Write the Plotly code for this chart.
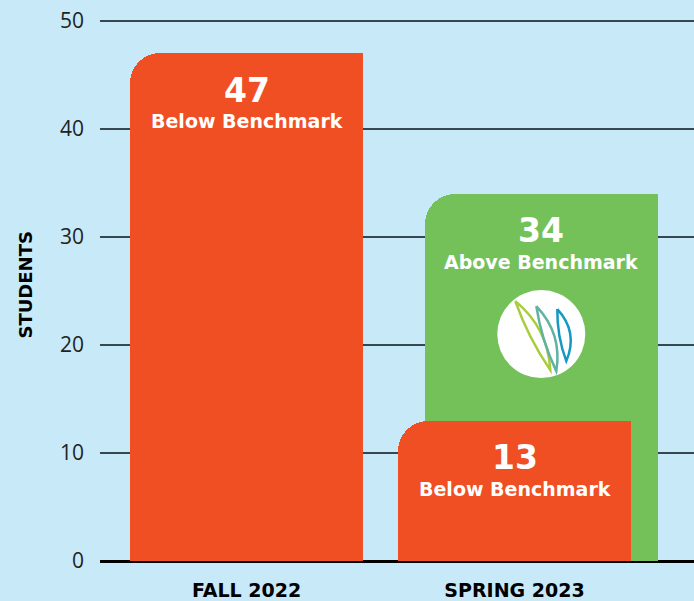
import plotly.graph_objects as go

categories = ["FALL 2022", "SPRING 2023"]
below_benchmark = [47, 13]
above_benchmark = [None, 34]
y_ticks = [0, 10, 20, 30, 40, 50]

RED = "#F04E23"
GREEN = "#74C15A"
BG = "#C7E9F8"
BW = 0.87      # bar width in category units
SHIFT = 0.10   # green bar shifted right
RAD = 30
LABEL_FONT = "DejaVu Sans"

xpos = list(range(len(categories)))
fig = go.Figure()

def add_bar(xs, ys, color, offset):
    # full bar with rounded top corners
    fig.add_trace(go.Bar(x=xs, y=ys, width=BW, offset=offset, marker=dict(color=color, cornerradius=RAD, line=dict(width=0)), hoverinfo="skip"))
    # right half, square corners -> only the top-left corner looks rounded
    fig.add_trace(go.Bar(x=xs, y=ys, width=BW / 2, offset=offset + BW / 2, marker=dict(color=color, line=dict(width=0)), hoverinfo="skip"))

ga_x = [xpos[i] for i, v in enumerate(above_benchmark) if v is not None]
ga_y = [v for v in above_benchmark if v is not None]
add_bar(ga_x, ga_y, GREEN, -BW / 2 + SHIFT)
add_bar(xpos, below_benchmark, RED, -BW / 2)

def add_labels(x, y, label):
    fig.add_annotation(x=x, y=y, text=f"<b>{y}</b>", showarrow=False, yanchor="middle", yshift=-37,
                       font=dict(family=LABEL_FONT, size=33, color="white"))
    fig.add_annotation(x=x, y=y, text=f"<b>{label}</b>", showarrow=False, yanchor="middle", yshift=-68,
                       font=dict(family=LABEL_FONT, size=19, color="white"))

for i, v in enumerate(below_benchmark):
    add_labels(xpos[i], v, "Below Benchmark")
for i, v in enumerate(above_benchmark):
    if v is not None:
        add_labels(xpos[i] + SHIFT, v, "Above Benchmark")

# logo: white circle with three leaf strokes
logo_x = 1 + SHIFT
logo_y = 21.0
fig.add_shape(type="circle", xref="x", yref="y", xsizemode="pixel", ysizemode="pixel",
              xanchor=logo_x, yanchor=logo_y, x0=-44, x1=44, y0=-44, y1=44,
              fillcolor="white", line=dict(width=0), layer="above")

leaves = [((-26, 33), (9, -36), "#A9CC3A"), ((-5, 28), (15, -37), "#5FB2A4"), ((16, 25), (25, -27), "#1499C4")]
for (tx, ty), (bx, by), col in leaves:
    mx, my = (tx + bx) / 2, (ty + by) / 2
    dx, dy = bx - tx, by - ty
    L = (dx * dx + dy * dy) ** 0.5
    px, py = -dy / L, dx / L
    c1 = (mx + px * 17, my + py * 17)
    c2 = (mx - px * 5, my - py * 5)
    path = f"M{tx},{ty} Q{c1[0]:.1f},{c1[1]:.1f} {bx},{by} Q{c2[0]:.1f},{c2[1]:.1f} {tx},{ty}"
    fig.add_shape(type="path", xref="x", yref="y", xsizemode="pixel", ysizemode="pixel",
                  xanchor=logo_x, yanchor=logo_y, path=path,
                  line=dict(color=col, width=2.5), layer="above")

fig.add_annotation(xref="paper", yref="paper", x=-75 / 594, y=(290 - 40) / 540 if False else 0.5, text="<b>STUDENTS</b>", textangle=-90,
                   showarrow=False, xanchor="center", yanchor="middle",
                   font=dict(family=LABEL_FONT, size=18, color="black"))

TOP = 51.0
fig.update_layout(
    width=694, height=601, margin=dict(l=100, r=0, t=round(601 - 40 - TOP * 10.8), b=40),
    paper_bgcolor=BG, plot_bgcolor=BG, barmode="overlay", showlegend=False, bargap=0,
    xaxis=dict(range=[-146.5 / 268, (694 - 246.5) / 268], tickvals=xpos, ticktext=[f"<b>{c}</b>" for c in categories],
               showgrid=False, zeroline=False, ticks="", ticklabelstandoff=16,
               tickfont=dict(family=LABEL_FONT, size=19, color="black"), fixedrange=True),
    yaxis=dict(range=[0, TOP], tickvals=y_ticks, showgrid=True, gridcolor="#37474F", gridwidth=1.5,
               zeroline=True, zerolinecolor="black", zerolinewidth=3, ticks="", ticklabelstandoff=15,
               tickfont=dict(family="Open Sans", size=21, color="#222222"), fixedrange=True),
)

fig.write_html("out.html", config={"displayModeBar": False},
               post_script="document.body.style.margin='0';document.body.style.overflow='hidden';")
